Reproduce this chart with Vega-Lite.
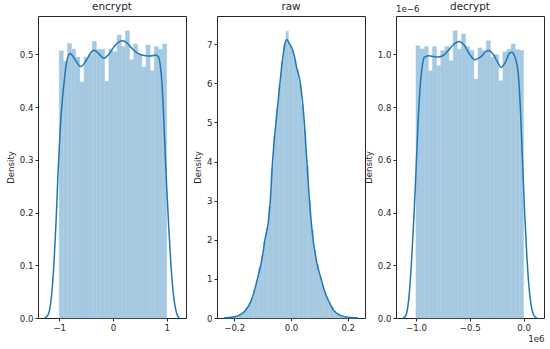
{
  "$schema": "https://vega.github.io/schema/vega-lite/v6.json",
  "padding": {"left": 5, "top": 1, "right": 0, "bottom": 0},
  "spacing": 31,
  "bounds": "flush",
  "config": {
    "font": "DejaVu Sans",
    "view": {"stroke": "#262626", "strokeWidth": 1},
    "axis": {"grid": false, "domain": false, "tickColor": "#262626", "tickSize": 3, "labelFontSize": 8.6, "labelColor": "#262626", "titleFontSize": 8.6, "titleFontWeight": "normal", "titleColor": "#262626", "labelPadding": 2, "titlePadding": 4},
    "title": {"fontSize": 10.4, "fontWeight": "normal", "color": "#262626", "offset": 4}
  },
  "datasets": {
    "enc_hist": [
      {"x0": -1, "x1": -0.92308, "density": 0.507},
      {"x0": -0.92308, "x1": -0.84615, "density": 0.487},
      {"x0": -0.84615, "x1": -0.76923, "density": 0.521},
      {"x0": -0.76923, "x1": -0.69231, "density": 0.51},
      {"x0": -0.69231, "x1": -0.61538, "density": 0.495},
      {"x0": -0.61538, "x1": -0.53846, "density": 0.448},
      {"x0": -0.53846, "x1": -0.46154, "density": 0.495},
      {"x0": -0.46154, "x1": -0.38462, "density": 0.5},
      {"x0": -0.38462, "x1": -0.30769, "density": 0.525},
      {"x0": -0.30769, "x1": -0.23077, "density": 0.51},
      {"x0": -0.23077, "x1": -0.15385, "density": 0.51},
      {"x0": -0.15385, "x1": -0.07692, "density": 0.449},
      {"x0": -0.07692, "x1": 0, "density": 0.51},
      {"x0": 0, "x1": 0.07692, "density": 0.505},
      {"x0": 0.07692, "x1": 0.15385, "density": 0.537},
      {"x0": 0.15385, "x1": 0.23077, "density": 0.515},
      {"x0": 0.23077, "x1": 0.30769, "density": 0.545},
      {"x0": 0.30769, "x1": 0.38462, "density": 0.49},
      {"x0": 0.38462, "x1": 0.46154, "density": 0.52},
      {"x0": 0.46154, "x1": 0.53846, "density": 0.5},
      {"x0": 0.53846, "x1": 0.61538, "density": 0.476},
      {"x0": 0.61538, "x1": 0.69231, "density": 0.518},
      {"x0": 0.69231, "x1": 0.76923, "density": 0.469},
      {"x0": 0.76923, "x1": 0.84615, "density": 0.515},
      {"x0": 0.84615, "x1": 0.92308, "density": 0.51},
      {"x0": 0.92308, "x1": 1, "density": 0.52}
    ],
    "enc_kde": [
      {"x": -1.27, "density": 0}, {"x": -1.22, "density": 0.004}, {"x": -1.18, "density": 0.015},
      {"x": -1.14, "density": 0.045}, {"x": -1.1, "density": 0.1}, {"x": -1.06, "density": 0.18},
      {"x": -1.02, "density": 0.28}, {"x": -0.98, "density": 0.36}, {"x": -0.94, "density": 0.415},
      {"x": -0.9, "density": 0.455}, {"x": -0.86, "density": 0.487}, {"x": -0.8, "density": 0.502},
      {"x": -0.72, "density": 0.493}, {"x": -0.6, "density": 0.477}, {"x": -0.5, "density": 0.488},
      {"x": -0.4, "density": 0.505}, {"x": -0.35, "density": 0.508}, {"x": -0.27, "density": 0.502},
      {"x": -0.17, "density": 0.493}, {"x": -0.08, "density": 0.5}, {"x": 0.0, "density": 0.512},
      {"x": 0.1, "density": 0.523}, {"x": 0.18, "density": 0.526}, {"x": 0.26, "density": 0.522},
      {"x": 0.35, "density": 0.512}, {"x": 0.45, "density": 0.503}, {"x": 0.58, "density": 0.498},
      {"x": 0.7, "density": 0.497}, {"x": 0.8, "density": 0.499}, {"x": 0.85, "density": 0.495},
      {"x": 0.88, "density": 0.48}, {"x": 0.91, "density": 0.45}, {"x": 0.94, "density": 0.39},
      {"x": 0.97, "density": 0.32}, {"x": 1.0, "density": 0.25}, {"x": 1.04, "density": 0.17},
      {"x": 1.08, "density": 0.1}, {"x": 1.12, "density": 0.05}, {"x": 1.16, "density": 0.02},
      {"x": 1.2, "density": 0.005}, {"x": 1.235, "density": 0}
    ],
    "raw_hist": [
      {"x0": -0.22, "x1": -0.2112, "density": 0.01},
      {"x0": -0.2112, "x1": -0.2024, "density": 0.02},
      {"x0": -0.2024, "x1": -0.1936, "density": 0.03},
      {"x0": -0.1936, "x1": -0.1848, "density": 0.05},
      {"x0": -0.1848, "x1": -0.176, "density": 0.08},
      {"x0": -0.176, "x1": -0.1672, "density": 0.12},
      {"x0": -0.1672, "x1": -0.1584, "density": 0.18},
      {"x0": -0.1584, "x1": -0.1496, "density": 0.27},
      {"x0": -0.1496, "x1": -0.1408, "density": 0.38},
      {"x0": -0.1408, "x1": -0.132, "density": 0.52},
      {"x0": -0.132, "x1": -0.1232, "density": 0.72},
      {"x0": -0.1232, "x1": -0.1144, "density": 0.98},
      {"x0": -0.1144, "x1": -0.1056, "density": 1.3},
      {"x0": -0.1056, "x1": -0.0968, "density": 1.6},
      {"x0": -0.0968, "x1": -0.088, "density": 1.95},
      {"x0": -0.088, "x1": -0.0792, "density": 2.3},
      {"x0": -0.0792, "x1": -0.0704, "density": 2.85},
      {"x0": -0.0704, "x1": -0.0616, "density": 3.85},
      {"x0": -0.0616, "x1": -0.0528, "density": 4.65},
      {"x0": -0.0528, "x1": -0.044, "density": 5.35},
      {"x0": -0.044, "x1": -0.0352, "density": 5.95},
      {"x0": -0.0352, "x1": -0.0264, "density": 6.55},
      {"x0": -0.0264, "x1": -0.0176, "density": 7.0},
      {"x0": -0.0176, "x1": -0.0088, "density": 7.33},
      {"x0": -0.0088, "x1": 0, "density": 7.0},
      {"x0": 0, "x1": 0.0088, "density": 6.85},
      {"x0": 0.0088, "x1": 0.0176, "density": 6.6},
      {"x0": 0.0176, "x1": 0.0264, "density": 6.35},
      {"x0": 0.0264, "x1": 0.0352, "density": 6.0},
      {"x0": 0.0352, "x1": 0.044, "density": 5.45},
      {"x0": 0.044, "x1": 0.0528, "density": 4.8},
      {"x0": 0.0528, "x1": 0.0616, "density": 3.9},
      {"x0": 0.0616, "x1": 0.0704, "density": 3.0},
      {"x0": 0.0704, "x1": 0.0792, "density": 2.25},
      {"x0": 0.0792, "x1": 0.088, "density": 1.75},
      {"x0": 0.088, "x1": 0.0968, "density": 1.38},
      {"x0": 0.0968, "x1": 0.1056, "density": 1.1},
      {"x0": 0.1056, "x1": 0.1144, "density": 0.85},
      {"x0": 0.1144, "x1": 0.1232, "density": 0.66},
      {"x0": 0.1232, "x1": 0.132, "density": 0.5},
      {"x0": 0.132, "x1": 0.1408, "density": 0.38},
      {"x0": 0.1408, "x1": 0.1496, "density": 0.27},
      {"x0": 0.1496, "x1": 0.1584, "density": 0.18},
      {"x0": 0.1584, "x1": 0.1672, "density": 0.12},
      {"x0": 0.1672, "x1": 0.176, "density": 0.08},
      {"x0": 0.176, "x1": 0.1848, "density": 0.05},
      {"x0": 0.1848, "x1": 0.1936, "density": 0.03},
      {"x0": 0.1936, "x1": 0.2024, "density": 0.02},
      {"x0": 0.2024, "x1": 0.2112, "density": 0.01},
      {"x0": 0.2112, "x1": 0.22, "density": 0.005}
    ],
    "raw_kde": [
      {"x": -0.237, "density": 0}, {"x": -0.22, "density": 0.01}, {"x": -0.2, "density": 0.03},
      {"x": -0.18, "density": 0.08}, {"x": -0.16, "density": 0.2}, {"x": -0.14, "density": 0.45},
      {"x": -0.12, "density": 0.95}, {"x": -0.1, "density": 1.6}, {"x": -0.092, "density": 2.0},
      {"x": -0.08, "density": 2.45}, {"x": -0.073, "density": 3.0}, {"x": -0.065, "density": 4.0},
      {"x": -0.053, "density": 5.0}, {"x": -0.039, "density": 6.0}, {"x": -0.03, "density": 6.6},
      {"x": -0.02, "density": 7.05}, {"x": -0.015, "density": 7.12}, {"x": -0.005, "density": 7.0},
      {"x": 0.0, "density": 6.95}, {"x": 0.01, "density": 6.75}, {"x": 0.02, "density": 6.4},
      {"x": 0.033, "density": 6.0}, {"x": 0.047, "density": 5.0}, {"x": 0.056, "density": 4.0},
      {"x": 0.065, "density": 3.0}, {"x": 0.078, "density": 2.0}, {"x": 0.09, "density": 1.45},
      {"x": 0.106, "density": 1.0}, {"x": 0.12, "density": 0.65}, {"x": 0.135, "density": 0.4},
      {"x": 0.15, "density": 0.2}, {"x": 0.17, "density": 0.08}, {"x": 0.19, "density": 0.035},
      {"x": 0.21, "density": 0.01}, {"x": 0.237, "density": 0}
    ],
    "dec_hist": [
      {"x0": -1, "x1": -0.96154, "density": 1.033},
      {"x0": -0.96154, "x1": -0.92308, "density": 1.021},
      {"x0": -0.92308, "x1": -0.88462, "density": 1.03},
      {"x0": -0.88462, "x1": -0.84615, "density": 0.938},
      {"x0": -0.84615, "x1": -0.80769, "density": 1.03},
      {"x0": -0.80769, "x1": -0.76923, "density": 0.957},
      {"x0": -0.76923, "x1": -0.73077, "density": 1.015},
      {"x0": -0.73077, "x1": -0.69231, "density": 1.03},
      {"x0": -0.69231, "x1": -0.65385, "density": 0.976},
      {"x0": -0.65385, "x1": -0.61538, "density": 1.09},
      {"x0": -0.61538, "x1": -0.57692, "density": 1.02},
      {"x0": -0.57692, "x1": -0.53846, "density": 1.078},
      {"x0": -0.53846, "x1": -0.5, "density": 1.03},
      {"x0": -0.5, "x1": -0.46154, "density": 1.015},
      {"x0": -0.46154, "x1": -0.42308, "density": 0.907},
      {"x0": -0.42308, "x1": -0.38462, "density": 1.025},
      {"x0": -0.38462, "x1": -0.34615, "density": 1.015},
      {"x0": -0.34615, "x1": -0.30769, "density": 1.052},
      {"x0": -0.30769, "x1": -0.26923, "density": 0.99},
      {"x0": -0.26923, "x1": -0.23077, "density": 1.0},
      {"x0": -0.23077, "x1": -0.19231, "density": 0.9},
      {"x0": -0.19231, "x1": -0.15385, "density": 1.01},
      {"x0": -0.15385, "x1": -0.11538, "density": 1.02},
      {"x0": -0.11538, "x1": -0.07692, "density": 1.04},
      {"x0": -0.07692, "x1": -0.03846, "density": 1.018},
      {"x0": -0.03846, "x1": 0, "density": 1.015}
    ],
    "dec_kde": [
      {"x": -1.12, "density": 0}, {"x": -1.1, "density": 0.005}, {"x": -1.08, "density": 0.03},
      {"x": -1.06, "density": 0.1}, {"x": -1.04, "density": 0.22}, {"x": -1.02, "density": 0.37},
      {"x": -1.0, "density": 0.55}, {"x": -0.98, "density": 0.74}, {"x": -0.96, "density": 0.88},
      {"x": -0.94, "density": 0.96}, {"x": -0.92, "density": 0.99}, {"x": -0.88, "density": 0.995},
      {"x": -0.8, "density": 0.99}, {"x": -0.75, "density": 0.995}, {"x": -0.7, "density": 1.015},
      {"x": -0.65, "density": 1.038}, {"x": -0.6, "density": 1.049}, {"x": -0.55, "density": 1.035},
      {"x": -0.5, "density": 1.0}, {"x": -0.45, "density": 0.98}, {"x": -0.4, "density": 0.99},
      {"x": -0.33, "density": 1.015}, {"x": -0.28, "density": 1.0}, {"x": -0.24, "density": 0.97},
      {"x": -0.21, "density": 0.951}, {"x": -0.17, "density": 0.97}, {"x": -0.13, "density": 1.005},
      {"x": -0.11, "density": 1.008}, {"x": -0.08, "density": 0.99}, {"x": -0.05, "density": 0.93},
      {"x": -0.03, "density": 0.8}, {"x": -0.01, "density": 0.6}, {"x": 0.01, "density": 0.4},
      {"x": 0.03, "density": 0.24}, {"x": 0.05, "density": 0.12}, {"x": 0.07, "density": 0.05},
      {"x": 0.09, "density": 0.015}, {"x": 0.11, "density": 0.003}, {"x": 0.125, "density": 0}
    ]
  },
  "hconcat": [
    {
      "width": 148, "height": 302,
      "title": "encrypt",
      "layer": [
        {
          "data": {"name": "enc_hist"},
          "mark": {"type": "bar", "color": "#a5c9e1", "stroke": "#a5c9e1", "strokeWidth": 0.4},
          "encoding": {
            "x": {"field": "x0", "type": "quantitative", "scale": {"domain": [-1.395, 1.36], "nice": false, "zero": false}, "axis": {"values": [-1, 0, 1], "format": "d", "title": null}},
            "x2": {"field": "x1"},
            "y": {"field": "density", "type": "quantitative", "scale": {"domain": [0, 0.573], "nice": false}, "axis": {"values": [0, 0.1, 0.2, 0.3, 0.4, 0.5], "format": ".1f", "title": "Density"}},
            "y2": {"datum": 0}
          }
        },
        {
          "data": {"name": "enc_kde"},
          "mark": {"type": "line", "color": "#1f77b4", "strokeWidth": 1.5, "interpolate": "monotone"},
          "encoding": {
            "x": {"field": "x", "type": "quantitative"},
            "y": {"field": "density", "type": "quantitative"}
          }
        }
      ]
    },
    {
      "width": 148, "height": 302,
      "title": "raw",
      "layer": [
        {
          "data": {"name": "raw_hist"},
          "mark": {"type": "bar", "color": "#a5c9e1", "stroke": "#a5c9e1", "strokeWidth": 0.4},
          "encoding": {
            "x": {"field": "x0", "type": "quantitative", "scale": {"domain": [-0.261, 0.261], "nice": false, "zero": false}, "axis": {"values": [-0.2, 0, 0.2], "format": ".1f", "title": null}},
            "x2": {"field": "x1"},
            "y": {"field": "density", "type": "quantitative", "scale": {"domain": [0, 7.72], "nice": false}, "axis": {"values": [0, 1, 2, 3, 4, 5, 6, 7], "format": "d", "title": "Density"}},
            "y2": {"datum": 0}
          }
        },
        {
          "data": {"name": "raw_kde"},
          "mark": {"type": "line", "color": "#1f77b4", "strokeWidth": 1.5, "interpolate": "monotone"},
          "encoding": {
            "x": {"field": "x", "type": "quantitative"},
            "y": {"field": "density", "type": "quantitative"}
          }
        }
      ]
    },
    {
      "width": 148, "height": 302,
      "title": {"text": "decrypt", "offset": -7},
      "layer": [
        {
          "data": {"name": "dec_hist"},
          "mark": {"type": "bar", "color": "#a5c9e1", "stroke": "#a5c9e1", "strokeWidth": 0.4},
          "encoding": {
            "x": {"field": "x0", "type": "quantitative", "scale": {"domain": [-1.185, 0.19], "nice": false, "zero": false}, "axis": {"values": [-1, -0.5, 0], "format": ".1f", "title": "1e6", "titleAnchor": "end", "titlePadding": 3}},
            "x2": {"field": "x1"},
            "y": {"field": "density", "type": "quantitative", "scale": {"domain": [0, 1.146], "nice": false}, "axis": {"values": [0, 0.2, 0.4, 0.6, 0.8, 1.0], "format": ".1f", "title": "Density"}},
            "y2": {"datum": 0}
          }
        },
        {
          "data": {"name": "dec_kde"},
          "mark": {"type": "line", "color": "#1f77b4", "strokeWidth": 1.5, "interpolate": "monotone"},
          "encoding": {
            "x": {"field": "x", "type": "quantitative"},
            "y": {"field": "density", "type": "quantitative"}
          }
        },
        {
          "data": {"values": [{"label": "1e−6"}]},
          "mark": {"type": "text", "align": "left", "baseline": "bottom", "dy": -2, "fontSize": 8.6, "color": "#262626"},
          "encoding": {
            "x": {"datum": -1.185},
            "y": {"datum": 1.146},
            "text": {"field": "label"}
          }
        }
      ]
    }
  ]
}
